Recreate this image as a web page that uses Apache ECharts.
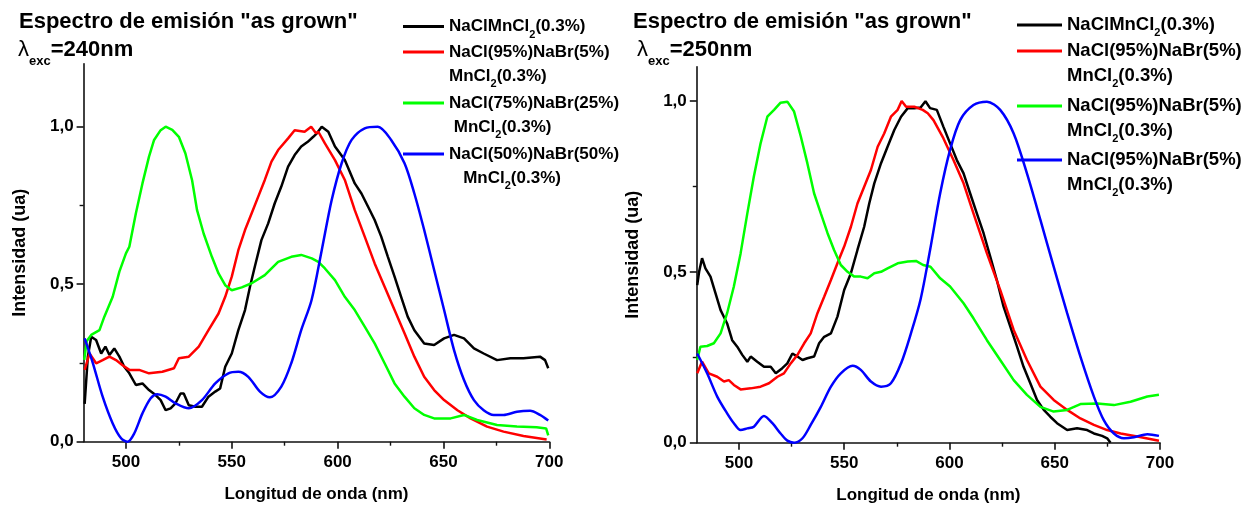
<!DOCTYPE html>
<html><head><meta charset="utf-8">
<script src="https://cdn.jsdelivr.net/npm/echarts@6/dist/echarts.min.js"></script>
<style>html,body{margin:0;padding:0;background:#fff}#c{width:1256px;height:505px}</style>
</head><body><div id="c"></div>
<script>
// ---------- Data: λexc = 240 nm (left panel) ----------
const wl_240_NaCl = [480.5,482,483.6,485.9,488.3,490.3,492.2,494.5,496.9,499.2,501.6,504.7,507.8,510.9,514,516.4,518.75,521.1,523.4,525.8,527.3,529.7,532.8,535.9,539,542.2,544.5,546.9,550,553.1,556.25,558.6,560.9,564,567.2,570.3,573.4,576.6,579.7,582.8,585.9,588.5,590.2,592.5,595.6,598.75,603.4,608.1,611.25,614.4,617.5,620.6,623.75,626.9,630,633.1,636.25,640.9,645.6,650.3,655,659.7,664.4,669,675.3,681.6,687.8,695.6,698,699.5];
const I_240_NaCl  = [0.12,0.27,0.333,0.323,0.28,0.302,0.275,0.296,0.27,0.238,0.217,0.18,0.185,0.164,0.148,0.132,0.1,0.106,0.122,0.153,0.153,0.116,0.111,0.111,0.143,0.159,0.169,0.238,0.28,0.354,0.418,0.492,0.556,0.64,0.693,0.757,0.81,0.873,0.91,0.937,0.952,0.968,0.979,1.0,0.984,0.937,0.894,0.82,0.788,0.746,0.704,0.651,0.587,0.524,0.46,0.397,0.354,0.312,0.307,0.328,0.339,0.328,0.296,0.28,0.259,0.265,0.265,0.27,0.259,0.233];

const wl_240_Br5 = [480.5,482.8,485.9,489,492.2,495.3,498.4,501.6,506.25,510.9,517.2,522.7,525,529.7,534.4,539,543.75,546.9,550,553.1,556.25,559.4,562.5,565.6,568.75,571.9,576.6,579.7,584.4,587.5,589.8,590.9,594,598.75,603.4,608.1,612.8,617.5,622.2,626.9,631.6,636.25,640.9,645.6,650.3,656.6,662.8,670.6,678.4,687.8,698.75];
const I_240_Br5  = [0.228,0.28,0.249,0.259,0.27,0.259,0.243,0.228,0.228,0.217,0.222,0.233,0.265,0.27,0.302,0.354,0.407,0.46,0.524,0.608,0.672,0.725,0.778,0.831,0.889,0.926,0.963,0.989,0.984,1.0,0.979,0.984,0.947,0.894,0.831,0.735,0.651,0.566,0.492,0.418,0.344,0.27,0.206,0.164,0.132,0.1,0.074,0.048,0.032,0.018,0.007];

const wl_240_Br25 = [480.3,481.5,483.6,487.5,489.8,493.75,496.9,500,501.6,504.7,507.8,510.9,513.3,516.4,518.75,521.9,525,528.1,531.25,533.6,536.7,540.6,543.75,546.9,550,554.7,559.4,565.6,571.9,578.1,582.8,587.8,590.9,594,598.75,603.4,608.1,612.8,617.5,622.2,626.9,631.6,636.25,640.9,645.6,653.4,659.7,665.9,675.3,684.7,694,698.5,699.5];
const I_240_Br25  = [0.26,0.32,0.339,0.354,0.397,0.46,0.54,0.598,0.619,0.725,0.82,0.905,0.958,0.989,1.0,0.99,0.968,0.915,0.83,0.735,0.661,0.587,0.534,0.497,0.481,0.49,0.503,0.529,0.571,0.587,0.593,0.582,0.571,0.55,0.513,0.46,0.418,0.365,0.312,0.249,0.185,0.143,0.106,0.085,0.074,0.074,0.085,0.069,0.053,0.048,0.046,0.042,0.02];

const wl_240_Br50 = [480.5,484.4,489,493.75,497.7,500.8,503.9,507.8,511.7,514.8,518.75,523.4,529.7,535.9,542.2,548.4,553.1,557.8,563.3,568,573.4,578.1,582.8,587.7,592.5,597.2,601.9,606.6,612.8,619,625.3,631.6,636.25,640.9,645.6,650.3,655,659.7,664.4,669,673.75,678.4,684.7,690.9,695.6,699.5];
const I_240_Br50  = [0.328,0.249,0.143,0.058,0.011,0.0,0.026,0.09,0.138,0.151,0.143,0.122,0.106,0.132,0.185,0.217,0.222,0.206,0.159,0.141,0.175,0.249,0.354,0.45,0.608,0.767,0.884,0.958,0.995,1.0,0.958,0.884,0.788,0.672,0.545,0.418,0.291,0.196,0.132,0.1,0.085,0.085,0.095,0.098,0.085,0.067];

// ---------- Data: λexc = 250 nm (right panel) ----------
const wl_250_NaCl = [480.2,481.1,482.5,484.1,486.5,488.9,491.3,492.9,494.4,496.8,499.2,501.6,504,505.6,508.7,511.9,515.1,517.5,520.6,523,525.4,527.8,530.2,532.5,535.7,538.1,540.5,543.7,546.8,550,553.2,556.3,559.5,561.9,564.3,567.5,570.6,573.8,577,580.2,583.3,586.3,588.6,590.8,594,597.1,600.3,603.5,606.7,609.8,613,616.2,619.4,622.5,625.7,628.9,632.1,635.2,638.4,641.6,644.8,647.9,651.1,655.9,660.6,665.4,668.6,672.5,674.9,676.5];
const I_250_NaCl  = [0.461,0.5,0.54,0.51,0.486,0.437,0.388,0.368,0.349,0.3,0.281,0.257,0.237,0.252,0.237,0.222,0.222,0.203,0.218,0.232,0.261,0.252,0.242,0.247,0.252,0.291,0.31,0.32,0.369,0.447,0.496,0.564,0.632,0.7,0.759,0.818,0.866,0.915,0.954,0.979,0.979,0.981,0.999,0.979,0.974,0.925,0.876,0.827,0.788,0.73,0.671,0.613,0.544,0.476,0.398,0.34,0.281,0.222,0.174,0.125,0.096,0.076,0.057,0.037,0.042,0.037,0.027,0.02,0.013,0.0];

const wl_250_Br5a = [480.2,482.5,485.7,489.7,492.9,495.2,497.6,500.8,505.6,510.3,514.3,518.3,521.4,524.6,527.8,531,534.1,537.3,540.5,543.7,546.8,550,553.2,556.3,559.5,562.7,565.9,569,572.2,575.4,577.3,579.4,583.3,587.3,589.7,592.4,597.1,601.9,606.7,611.4,617.8,624.1,630.5,636.8,643.2,649.5,655.9,662.2,668.6,674.9,681.3,689.2,699.5];
const I_250_Br5a  = [0.203,0.237,0.203,0.193,0.179,0.183,0.169,0.156,0.159,0.164,0.174,0.193,0.203,0.232,0.257,0.291,0.32,0.379,0.427,0.476,0.525,0.574,0.632,0.7,0.749,0.798,0.866,0.905,0.954,0.974,1.0,0.983,0.983,0.974,0.964,0.944,0.891,0.827,0.759,0.671,0.554,0.447,0.33,0.242,0.164,0.125,0.096,0.071,0.052,0.037,0.027,0.018,0.006];

const wl_250_Br5b = [480.2,481.7,484.9,488.1,491.3,494.4,497.6,500.8,504,507.1,510.3,513.5,516.7,519.8,523,526.2,529.4,532.5,535.7,538.9,542.1,545.2,548.4,551.6,554.8,557.9,561.1,564.3,567.5,570.6,575.4,580.2,584.1,587.5,591,595.6,600.3,606.7,611.4,617.8,624.1,630.5,636.8,643.2,649.5,655.9,662.2,670.2,678.1,686,694,699.5];
const I_250_Br5b  = [0.242,0.281,0.283,0.291,0.32,0.379,0.457,0.554,0.671,0.779,0.876,0.954,0.974,0.995,0.998,0.969,0.896,0.818,0.73,0.671,0.613,0.564,0.52,0.5,0.486,0.486,0.481,0.496,0.5,0.51,0.525,0.53,0.532,0.52,0.515,0.481,0.457,0.408,0.364,0.3,0.242,0.183,0.14,0.105,0.091,0.096,0.113,0.115,0.11,0.12,0.135,0.14];

const wl_250_Br5c = [480.2,484.9,489.7,494.4,497.6,500.8,504,507.1,511.9,515.9,519.8,523,526.2,530.2,534.1,538.9,543.7,548.4,554,557.9,562.7,567.5,572.2,577,581.7,586.3,590.8,595.6,600.3,605.1,611.4,617.8,624.1,630.5,636.8,643.2,649.5,655.9,662.2,668.6,673.3,678.1,682.9,687.6,694,699.5];
const I_250_Br5c  = [0.261,0.203,0.135,0.086,0.057,0.037,0.042,0.047,0.078,0.057,0.027,0.006,0.0,0.013,0.052,0.105,0.164,0.203,0.225,0.213,0.179,0.164,0.174,0.232,0.32,0.42,0.564,0.73,0.857,0.944,0.988,0.998,0.974,0.905,0.788,0.652,0.515,0.379,0.252,0.135,0.066,0.027,0.013,0.016,0.025,0.02];

// ---------- Axis ticks / texts ----------
const xMajorTicks = [500, 550, 600, 650, 700];
const xMinorTicks = [525, 575, 625, 675];
const yMajorTicks = [0, 0.5, 1.0];
const yMinorTicks = [0.25, 0.75];
const titleMain = 'Espectro de emisión "as grown"';
const excLeft = '=240nm';
const excRight = '=250nm';
const xName = 'Longitud de onda (nm)';
const yName = 'Intensidad (ua)';

const FONT = "'Liberation Sans', Arial, Helvetica, sans-serif";
const zip = (xs, ys) => xs.map((x, i) => [x, ys[i]]);

const seriesDefs = [
  {name: 'NaClMnCl2(0.3%) · 240', label: 'NaClMnCl{s|2}(0.3%)', color: '#000000', x: wl_240_NaCl, y: I_240_NaCl, panel: 0},
  {name: 'NaCl(95%)NaBr(5%) MnCl2(0.3%) · 240', label: 'NaCl(95%)NaBr(5%)\nMnCl{s|2}(0.3%)', color: '#ff0000', x: wl_240_Br5, y: I_240_Br5, panel: 0},
  {name: 'NaCl(75%)NaBr(25%) MnCl2(0.3%) · 240', label: 'NaCl(75%)NaBr(25%)\n MnCl{s|2}(0.3%)', color: '#00ff00', x: wl_240_Br25, y: I_240_Br25, panel: 0},
  {name: 'NaCl(50%)NaBr(50%) MnCl2(0.3%) · 240', label: 'NaCl(50%)NaBr(50%)\n   MnCl{s|2}(0.3%)', color: '#0000ff', x: wl_240_Br50, y: I_240_Br50, panel: 0, smooth: 0.3},
  {name: 'NaClMnCl2(0.3%) · 250', label: 'NaClMnCl{s|2}(0.3%)', color: '#000000', x: wl_250_NaCl, y: I_250_NaCl, panel: 1},
  {name: 'NaCl(95%)NaBr(5%) MnCl2(0.3%) · 250 a', label: 'NaCl(95%)NaBr(5%)\nMnCl{s|2}(0.3%)', color: '#ff0000', x: wl_250_Br5a, y: I_250_Br5a, panel: 1},
  {name: 'NaCl(95%)NaBr(5%) MnCl2(0.3%) · 250 b', label: 'NaCl(95%)NaBr(5%)\nMnCl{s|2}(0.3%)', color: '#00ff00', x: wl_250_Br5b, y: I_250_Br5b, panel: 1},
  {name: 'NaCl(95%)NaBr(5%) MnCl2(0.3%) · 250 c', label: 'NaCl(95%)NaBr(5%)\nMnCl{s|2}(0.3%)', color: '#0000ff', x: wl_250_Br5c, y: I_250_Br5c, panel: 1, smooth: 0.3}
];

// legend placement per item (icon left, icon center y)
const legendPos = [
  {left: 403, cy: 25, w: 41, L: 24, fs: 17},
  {left: 403, cy: 52, w: 41, L: 24, fs: 17},
  {left: 403, cy: 103, w: 41, L: 24, fs: 17},
  {left: 403, cy: 154, w: 41, L: 24, fs: 17},
  {left: 1017, cy: 24, w: 45, L: 25, fs: 18.5},
  {left: 1017, cy: 51, w: 45, L: 25, fs: 18.5},
  {left: 1017, cy: 106, w: 45, L: 25, fs: 18.5},
  {left: 1017, cy: 160, w: 45, L: 25, fs: 18.5}
];

const grids = [
  {left: 83.6, top: 63.7, width: 465.7, height: 378, yMax: 1.2},
  {left: 696.8, top: 66.8, width: 463.2, height: 375.9, yMax: 1.1}
];

const axisColor = '#111';
const labelStyle = {fontFamily: FONT, fontWeight: 'bold', color: '#000'};

const xAxes = [], yAxes = [];
grids.forEach((g, gi) => {
  xAxes.push({
    type: 'value', gridIndex: gi, min: 480, max: 700, position: 'bottom',
    axisLine: {show: true, lineStyle: {color: axisColor, width: 1.6}},
    axisTick: {show: true, customValues: xMajorTicks, length: 7, lineStyle: {color: axisColor, width: 1.6}},
    axisLabel: Object.assign({customValues: xMajorTicks, fontSize: 17, margin: 12}, labelStyle),
    splitLine: {show: false},
    name: xName, nameLocation: 'middle', nameGap: 44,
    nameTextStyle: Object.assign({fontSize: 17}, labelStyle)
  });
  xAxes.push({
    type: 'value', gridIndex: gi, min: 480, max: 700, position: 'bottom',
    axisLine: {show: false},
    axisTick: {show: true, customValues: xMinorTicks, length: 4, lineStyle: {color: axisColor, width: 1.4}},
    axisLabel: {show: false}, splitLine: {show: false}
  });
  yAxes.push({
    type: 'value', gridIndex: gi, min: 0, max: g.yMax, position: 'left',
    axisLine: {show: true, lineStyle: {color: axisColor, width: 1.6}},
    axisTick: {show: true, customValues: yMajorTicks, length: 7, lineStyle: {color: axisColor, width: 1.6}},
    axisLabel: Object.assign({customValues: yMajorTicks, fontSize: 17, margin: 10,
      formatter: v => v.toFixed(1).replace('.', ',')}, labelStyle),
    splitLine: {show: false},
    name: yName, nameLocation: 'middle', nameGap: 55,
    nameTextStyle: Object.assign({fontSize: 18}, labelStyle)
  });
  yAxes.push({
    type: 'value', gridIndex: gi, min: 0, max: g.yMax, position: 'left',
    axisLine: {show: false},
    axisTick: {show: true, customValues: yMinorTicks, length: 4, lineStyle: {color: axisColor, width: 1.4}},
    axisLabel: {show: false}, splitLine: {show: false}
  });
});

const legends = seriesDefs.map((s, i) => {
  const p = legendPos[i];
  const twoLine = s.label.indexOf('\n') >= 0;
  const top = twoLine ? p.cy - 1.5 * p.L : p.cy - p.L / 2;
  return {
    data: [s.name], left: p.left, top: top, padding: 0, orient: 'vertical',
    icon: 'rect', itemWidth: p.w, itemHeight: 3, selectedMode: false,
    itemStyle: {color: s.color, borderWidth: 0},
    formatter: () => s.label,
    textStyle: {
      fontFamily: FONT, fontWeight: 'bold', fontSize: p.fs, color: '#000', lineHeight: p.L,
      padding: twoLine ? [p.L, 0, 0, 0] : 0,
      rich: {s: {fontFamily: FONT, fontWeight: 'bold', fontSize: 11, color: '#000', lineHeight: p.L, padding: [16, 0, 0, 0]}}
    }
  };
});

const excRich = {
  l: {fontFamily: FONT, fontSize: 22, fontWeight: 'normal', color: '#000', lineHeight: 26},
  e: {fontFamily: FONT, fontSize: 13, fontWeight: 'bold', color: '#000', lineHeight: 26, padding: [22, 0, 0, 0]},
  b: {fontFamily: FONT, fontSize: 22, fontWeight: 'bold', color: '#000', lineHeight: 26}
};
const titles = [
  {text: titleMain, left: 19, top: 11, padding: 0, textStyle: {fontFamily: FONT, fontSize: 22, fontWeight: 'bold', color: '#000'}},
  {text: '{l|λ}{e|exc}{b|' + excLeft + '}', left: 18, top: 37, padding: 0, textStyle: {rich: excRich}},
  {text: titleMain, left: 633, top: 11, padding: 0, textStyle: {fontFamily: FONT, fontSize: 22, fontWeight: 'bold', color: '#000'}},
  {text: '{l|λ}{e|exc}{b|' + excRight + '}', left: 637, top: 37, padding: 0, textStyle: {rich: excRich}}
];

const series = seriesDefs.map(s => ({
  name: s.name, type: 'line',
  xAxisIndex: s.panel * 2, yAxisIndex: s.panel * 2,
  data: zip(s.x, s.y),
  showSymbol: false, symbol: 'none', smooth: s.smooth || false,
  color: s.color,
  itemStyle: {color: s.color},
  lineStyle: {color: s.color, width: 2.5},
  emphasis: {disabled: true}
}));

const chart = echarts.init(document.getElementById('c'), null, {renderer: 'canvas'});
chart.setOption({
  animation: false,
  backgroundColor: '#ffffff',
  title: titles,
  legend: legends,
  grid: grids.map(g => ({left: g.left, top: g.top, width: g.width, height: g.height, containLabel: false, outerBoundsMode: 'none'})),
  xAxis: xAxes,
  yAxis: yAxes,
  series: series
});
</script>
</body></html>
